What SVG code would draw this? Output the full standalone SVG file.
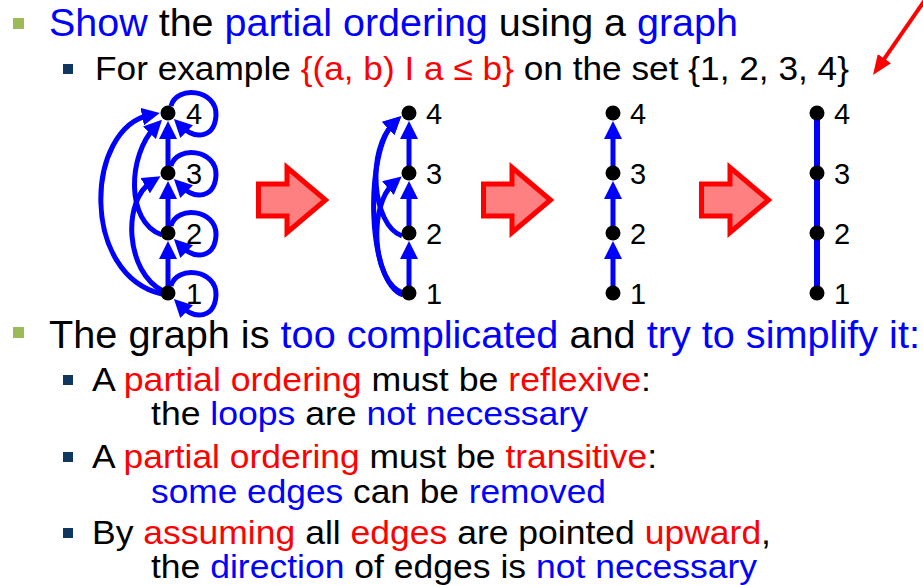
<svg xmlns="http://www.w3.org/2000/svg" width="923" height="585" viewBox="0 0 923 585">
<style>
text{font-family:"Liberation Sans",Arial,sans-serif;}
.l1{font-size:38px;}
.l2{font-size:33px;}
.lab{font-size:29px;fill:#000;}
.b{fill:#0000FF;}
.r{fill:#FF0000;}
.k{fill:#000;}
.e{fill:none;stroke:#0000FF;stroke-width:5;}
.ea{fill:none;stroke:#0000FF;stroke-width:5;marker-end:url(#ah);}
.n{fill:#000;}
.blk{fill:#FF8080;stroke:#FF0000;stroke-width:5;stroke-linejoin:miter;}
.g1{fill:#9BBB59;}
.g2{fill:#10375F;}
</style>
<defs>
<marker id="ah" viewBox="0 0 18 18" refX="8" refY="9" markerWidth="18" markerHeight="18" markerUnits="userSpaceOnUse" orient="auto">
<path d="M0,0 L18,9 L0,18 Z" fill="#0000FF"/>
</marker>
<marker id="rah" viewBox="0 0 20 16" refX="10" refY="8" markerWidth="20" markerHeight="16" markerUnits="userSpaceOnUse" orient="auto">
<path d="M0,0 L20,8 L0,16 Z" fill="#FF0000"/>
</marker>
<path id="blockarrow" class="blk" d="M258.5,184 L287,184 L287,167.5 L325.5,200 L287,232.5 L287,216 L258.5,216 Z"/>
</defs>

<g id="text">
<rect class="g1" x="13" y="18" width="11" height="11"/>
<text class="l1" x="49" y="36" textLength="689" lengthAdjust="spacingAndGlyphs"><tspan class="b">Show</tspan><tspan class="k"> the </tspan><tspan class="b">partial ordering</tspan><tspan class="k"> using a </tspan><tspan class="b">graph</tspan></text>
<rect class="g2" x="63" y="64" width="10" height="10"/>
<text class="l2" x="95" y="80" style="font-size:34px" textLength="754" lengthAdjust="spacingAndGlyphs"><tspan class="k">For example </tspan><tspan class="r">{(a, b) I a ≤ b}</tspan><tspan class="k"> on the set {1, 2, 3, 4}</tspan></text>

<rect class="g1" x="13" y="327" width="11" height="11"/>
<text class="l1" x="49" y="348" textLength="871" lengthAdjust="spacingAndGlyphs"><tspan class="k">The graph is </tspan><tspan class="b">too complicated</tspan><tspan class="k"> and </tspan><tspan class="b">try to simplify it:</tspan></text>

<rect class="g2" x="63" y="375" width="10" height="10"/>
<text class="l2" x="92" y="391" textLength="559" lengthAdjust="spacingAndGlyphs"><tspan class="k">A </tspan><tspan class="r">partial ordering</tspan><tspan class="k"> must be </tspan><tspan class="r">reflexive</tspan><tspan class="k">:</tspan></text>
<text class="l2" x="151" y="425" textLength="437" lengthAdjust="spacingAndGlyphs"><tspan class="k">the </tspan><tspan class="b">loops</tspan><tspan class="k"> are </tspan><tspan class="b">not necessary</tspan></text>

<rect class="g2" x="63" y="452" width="10" height="10"/>
<text class="l2" x="92" y="468" textLength="565" lengthAdjust="spacingAndGlyphs"><tspan class="k">A </tspan><tspan class="r">partial ordering</tspan><tspan class="k"> must be </tspan><tspan class="r">transitive</tspan><tspan class="k">:</tspan></text>
<text class="l2" x="151" y="503" textLength="455" lengthAdjust="spacingAndGlyphs"><tspan class="b">some edges</tspan><tspan class="k"> can be </tspan><tspan class="b">removed</tspan></text>

<rect class="g2" x="63" y="528" width="10" height="10"/>
<text class="l2" x="92" y="544" textLength="679" lengthAdjust="spacingAndGlyphs"><tspan class="k">By </tspan><tspan class="r">assuming</tspan><tspan class="k"> all </tspan><tspan class="r">edges</tspan><tspan class="k"> are pointed </tspan><tspan class="r">upward</tspan><tspan class="k">,</tspan></text>
<text class="l2" x="151" y="578" textLength="606" lengthAdjust="spacingAndGlyphs"><tspan class="k">the </tspan><tspan class="b">direction</tspan><tspan class="k"> of edges is </tspan><tspan class="b">not necessary</tspan></text>
</g>

<g id="block-arrows">
<use href="#blockarrow"/>
<use href="#blockarrow" transform="translate(225,0)"/>
<use href="#blockarrow" transform="translate(443,0)"/>
</g>

<g id="pointer-arrow">
<path d="M927,-3 L878.7,66.8" fill="none" stroke="#FF0000" stroke-width="4" marker-end="url(#rah)"/>
</g>

<g id="connectors">
<!-- column 1 -->
<path class="ea" d="M168,293 L168,251"/>
<path class="ea" d="M168,233 L168,191"/>
<path class="ea" d="M168,173 L168,131"/>
<path class="ea" d="M162,294 C80,275 85,128 150,115"/>
<path class="ea" d="M163,291 C125,272 122,200 152,181.5"/>
<path class="ea" d="M162,235 C125,222 128,155 155,127"/>
<path class="ea" d="M171,106 C176,85 217,89 216,115 C215,137 196,141 181,126"/>
<path class="ea" d="M171,166 C176,145 217,149 216,175 C215,197 196,201 181,186"/>
<path class="ea" d="M171,226 C176,205 217,209 216,235 C215,257 196,261 181,246"/>
<path class="ea" d="M171,286 C176,265 217,269 216,295 C215,317 196,321 181,306"/>
<!-- column 2 -->
<path class="ea" d="M409,293 L409,251"/>
<path class="ea" d="M409,233 L409,191"/>
<path class="ea" d="M409,173 L409,131"/>
<path class="ea" d="M403,295 C366,282 365,150 394,123"/>
<path class="ea" d="M403,293 C372,282 368,205 394,183"/>
<path class="ea" d="M402,236 C372,225 366,150 394,123"/>
<!-- column 3 -->
<path class="ea" d="M613,293 L613,251"/>
<path class="ea" d="M613,233 L613,191"/>
<path class="ea" d="M613,173 L613,131"/>
<!-- column 4 -->
<path class="e" style="stroke-width:6" d="M817,113 L817,293"/>
</g>

<g id="nodes-col1">
<g id="c1n1"><circle class="n" cx="168" cy="293" r="7.5"/><text class="lab" x="186" y="304">1</text></g>
<g id="c1n2"><circle class="n" cx="168" cy="233" r="7.5"/><text class="lab" x="186" y="244">2</text></g>
<g id="c1n3"><circle class="n" cx="168" cy="173" r="7.5"/><text class="lab" x="186" y="184">3</text></g>
<g id="c1n4"><circle class="n" cx="168" cy="113" r="7.5"/><text class="lab" x="186" y="124">4</text></g>
</g>
<g id="nodes-col2">
<g id="c2n1"><circle class="n" cx="409" cy="293" r="7.5"/><text class="lab" x="426" y="304">1</text></g>
<g id="c2n2"><circle class="n" cx="409" cy="233" r="7.5"/><text class="lab" x="426" y="244">2</text></g>
<g id="c2n3"><circle class="n" cx="409" cy="173" r="7.5"/><text class="lab" x="426" y="184">3</text></g>
<g id="c2n4"><circle class="n" cx="409" cy="113" r="7.5"/><text class="lab" x="426" y="124">4</text></g>
</g>
<g id="nodes-col3">
<g id="c3n1"><circle class="n" cx="613" cy="293" r="7.5"/><text class="lab" x="630" y="304">1</text></g>
<g id="c3n2"><circle class="n" cx="613" cy="233" r="7.5"/><text class="lab" x="630" y="244">2</text></g>
<g id="c3n3"><circle class="n" cx="613" cy="173" r="7.5"/><text class="lab" x="630" y="184">3</text></g>
<g id="c3n4"><circle class="n" cx="613" cy="113" r="7.5"/><text class="lab" x="630" y="124">4</text></g>
</g>
<g id="nodes-col4">
<g id="c4n1"><circle class="n" cx="817" cy="293" r="7.5"/><text class="lab" x="834" y="304">1</text></g>
<g id="c4n2"><circle class="n" cx="817" cy="233" r="7.5"/><text class="lab" x="834" y="244">2</text></g>
<g id="c4n3"><circle class="n" cx="817" cy="173" r="7.5"/><text class="lab" x="834" y="184">3</text></g>
<g id="c4n4"><circle class="n" cx="817" cy="113" r="7.5"/><text class="lab" x="834" y="124">4</text></g>
</g>
</svg>
